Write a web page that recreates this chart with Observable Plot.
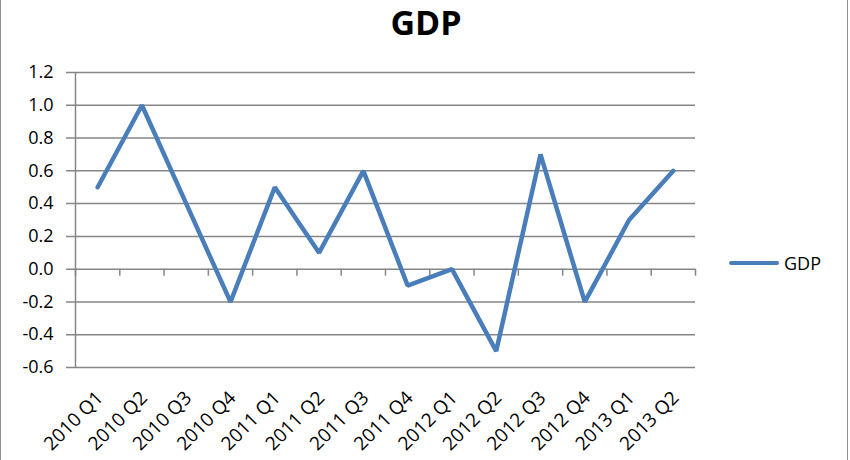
<!DOCTYPE html>
<html>
<head>
<meta charset="utf-8">
<script src="https://cdn.jsdelivr.net/npm/d3@7"></script>
<script src="https://cdn.jsdelivr.net/npm/@observablehq/plot@0.6"></script>
<style>
  html, body { margin: 0; padding: 0; background: #fff; }
  #wrap { position: relative; width: 846px; height: 460px; border-left: 1.5px solid #8c8c8c; border-right: 1.5px solid #8c8c8c; overflow: hidden; font-family: "Open Sans", sans-serif; }
  #title { height: 45px; line-height: 44px; text-align: center; font-weight: bold; font-size: 34px; color: #000; padding-left: 4px; overflow: visible; }
  #legend { position: absolute; left: 728px; top: 251px; display: flex; align-items: center; font-size: 18px; color: #000; }
  #legend .sw { width: 50px; height: 4.5px; background: #4a7ebb; margin-right: 5px; border-radius: 2px; }
</style>
</head>
<body>
<div id="wrap">
  <div id="title">GDP</div>
  <div id="chart"></div>
  <div id="legend"><span class="sw"></span><span>GDP</span></div>
</div>
<script>
const quarters = ["2010 Q1","2010 Q2","2010 Q3","2010 Q4","2011 Q1","2011 Q2","2011 Q3","2011 Q4","2012 Q1","2012 Q2","2012 Q3","2012 Q4","2013 Q1","2013 Q2"];
const gdp = [0.5, 1.0, 0.4, -0.2, 0.5, 0.1, 0.6, -0.1, 0.0, -0.5, 0.7, -0.2, 0.3, 0.6];
const yTicks = [-0.6, -0.4, -0.2, 0.0, 0.2, 0.4, 0.6, 0.8, 1.0, 1.2];

const data = quarters.map((q, i) => ({i, q, v: gdp[i]}));
const boundaries = d3.range(quarters.length + 1).map(k => k - 0.5);

const chart = Plot.plot({
  width: 846,
  height: 415,
  marginTop: 27,
  marginBottom: 93,
  marginLeft: 74,
  marginRight: 152,
  style: {fontFamily: "Open Sans, sans-serif", fontSize: "18px", color: "#000", background: "#fff"},
  x: {
    type: "linear",
    domain: [-0.5, quarters.length - 0.5],
    axis: null
  },
  y: {
    domain: [-0.6, 1.2],
    ticks: yTicks,
    tickFormat: d => d.toFixed(1),
    tickSize: 0,
    tickPadding: 22,
    label: null
  },
  marks: [
    Plot.ruleY(yTicks, {stroke: "#868686", strokeWidth: 1.5, insetLeft: -9}),
    Plot.ruleX([-0.5], {stroke: "#868686", strokeWidth: 1.5}),
    Plot.ruleX(boundaries, {x: d => d, y1: 0, y2: 0, insetBottom: -7, stroke: "#868686", strokeWidth: 1.5}),
    Plot.line(data, {x: "i", y: "v", stroke: "#4a7ebb", strokeWidth: 4.5, strokeLinejoin: "miter", strokeLinecap: "round"}),
    Plot.text(data, {x: "i", text: "q", frameAnchor: "bottom", rotate: -45, textAnchor: "end", lineAnchor: "top", dx: -3, dy: 22, fill: "#000", fontSize: 19})
  ]
});
document.getElementById("chart").appendChild(chart);
</script>
</body>
</html>
